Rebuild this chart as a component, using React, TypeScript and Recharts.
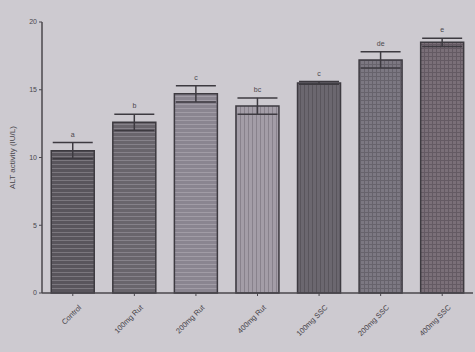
import React from 'react';
import { ComposedChart, Bar, Line, XAxis, YAxis, ErrorBar, Cell, LabelList } from 'recharts';

const groups = ['Control', '100mg Rut', '200mg Rut', '400mg Rut', '100mg SSC', '200mg SSC', '400mg SSC'];
const altMeans = [10.5, 12.6, 14.7, 13.8, 15.5, 17.2, 18.5];
const altErrors = [0.6, 0.6, 0.6, 0.6, 0.1, 0.6, 0.3];
const sigLetters = ['a', 'b', 'c', 'bc', 'c', 'de', 'e'];
const yTicks = [0, 5, 10, 15, 20];

const patterns = [
  { id: 'p1', base: '#59555c', line: '#7b777e', dir: 'h' },
  { id: 'p2', base: '#69656c', line: '#86828a', dir: 'h' },
  { id: 'p3', base: '#8a8590', line: '#a19ca6', dir: 'h' },
  { id: 'p4', base: '#a39da7', line: '#88828c', dir: 'v' },
  { id: 'p5', base: '#6b676f', line: '#59555c', dir: 'v' },
  { id: 'p6', base: '#7c7882', line: '#67636c', dir: 'g' },
  { id: 'p7', base: '#7a6f78', line: '#645a63', dir: 'g' },
];

const data = groups.map((g, i) => ({
  name: g,
  alt: altMeans[i],
  err: altErrors[i],
  top: altMeans[i] + altErrors[i],
  sig: sigLetters[i],
}));

const AngledTick = ({ x, y, payload }: any) => (
  <g transform={`translate(${x + 9},${y + 10})`}>
    <text
      transform="rotate(-45)"
      textAnchor="end"
      fontSize={7.5}
      fill="#454248"
      fontFamily="Liberation Sans, Arial, sans-serif"
    >
      {payload.value}
    </text>
  </g>
);

export default function App() {
  return (
    <div style={{ position: 'fixed', left: 0, top: 0, width: 475, height: 352, background: '#cdcad0' }}>
      <ComposedChart
        width={475}
        height={352}
        data={data}
        margin={{ top: 22, right: 2, bottom: 0, left: 12 }}
        barCategoryGap="15%"
      >
        <defs>
          {patterns.map((p) => (
            <pattern key={p.id} id={p.id} width={4} height={4} patternUnits="userSpaceOnUse">
              <rect width={4} height={4} fill={p.base} />
              {(p.dir === 'h' || p.dir === 'g') && <line x1={0} y1={0.5} x2={4} y2={0.5} stroke={p.line} strokeWidth={1} />}
              {(p.dir === 'v' || p.dir === 'g') && <line x1={0.5} y1={0} x2={0.5} y2={4} stroke={p.line} strokeWidth={1} />}
            </pattern>
          ))}
        </defs>
        <XAxis
          dataKey="name"
          height={59}
          interval={0}
          tick={<AngledTick />}
          axisLine={{ stroke: '#4a474d', strokeWidth: 1.5 }}
          tickLine={{ stroke: '#4a474d' }}
          tickSize={3}
        />
        <YAxis
          domain={[0, 20]}
          ticks={yTicks}
          width={30}
          tick={{ fontSize: 7, fill: '#4a474d', fontFamily: 'Liberation Sans, Arial, sans-serif' }}
          axisLine={{ stroke: '#4a474d', strokeWidth: 1.5 }}
          tickLine={{ stroke: '#4a474d' }}
          tickSize={3}
          label={{
            value: 'ALT activity (IU/L)',
            angle: -90,
            position: 'insideLeft',
            offset: 0,
            style: { fontSize: 8, fill: '#4a474d', fontFamily: 'Liberation Sans, Arial, sans-serif', textAnchor: 'middle' },
          }}
        />
        <Bar dataKey="alt" stroke="#3d3a40" strokeWidth={1.5} isAnimationActive={false}>
          {data.map((d, i) => (
            <Cell key={d.name} fill={`url(#${patterns[i].id})`} />
          ))}
          <ErrorBar dataKey="err" width={20} stroke="#3d3a40" strokeWidth={1.5} />
        </Bar>
        <Line dataKey="top" stroke="none" dot={false} activeDot={false} isAnimationActive={false}>
          <LabelList
            dataKey="sig"
            position="top"
            offset={6}
            style={{ fontSize: 7, fill: '#4a474d', fontFamily: 'Liberation Sans, Arial, sans-serif' }}
          />
        </Line>
      </ComposedChart>
    </div>
  );
}
